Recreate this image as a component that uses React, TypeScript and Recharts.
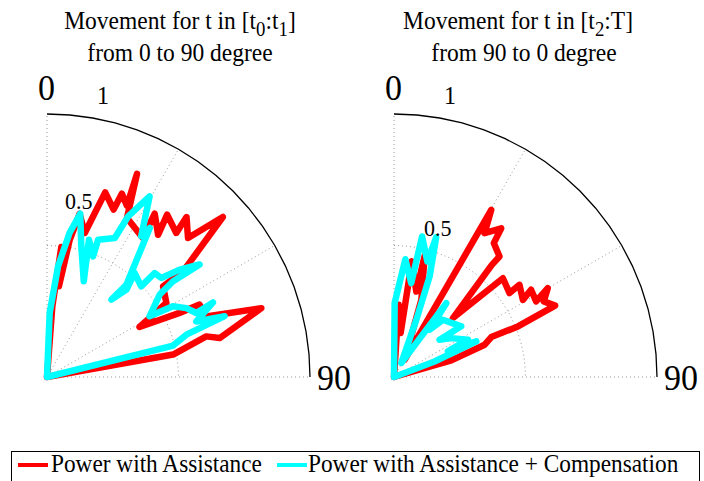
import { ScatterChart, Scatter, XAxis, YAxis } from "recharts";

// t in [t0:t1], moving from 0 to 90 degree (angle from the 0 axis, radius 0..1)
const redLeftDeg = [5, 4.3, 6.3, 7.5, 9.4, 11.3, 14.7, 17.5, 21.7, 22.2, 25.0, 23.9, 26.7, 34.6, 33.4, 38.0, 36.5, 41.9, 41.1, 45.4, 47.7, 52.2, 52.0, 58.2, 61.6, 64.2, 64.6, 69.2, 72.2, 77.3, 75.7, 79.9, 82];
const redLeftR = [0, 0.269, 0.497, 0.348, 0.529, 0.633, 0.566, 0.736, 0.685, 0.753, 0.719, 0.845, 0.677, 0.642, 0.744, 0.686, 0.768, 0.736, 0.807, 0.753, 0.904, 0.655, 0.56, 0.534, 0.4, 0.56, 0.642, 0.648, 0.856, 0.673, 0.625, 0.487, 0];
const cyanLeftDeg = [3, 2.4, 5.7, 8.9, 11.5, 14.7, 21.0, 17.0, 20.9, 20.4, 26.0, 26.8, 29.6, 33.8, 34.6, 40.7, 39.8, 42.3, 40.1, 46.1, 46.0, 49.1, 51.0, 53.6, 52.8, 53.8, 59.4, 60.7, 63.7, 66.8, 65.8, 69.6, 71.1, 73.1, 76.0, 78];
const cyanLeftR = [0, 0.244, 0.423, 0.554, 0.634, 0.514, 0.39, 0.546, 0.491, 0.557, 0.588, 0.684, 0.79, 0.644, 0.688, 0.463, 0.383, 0.449, 0.517, 0.497, 0.569, 0.575, 0.649, 0.721, 0.602, 0.531, 0.453, 0.549, 0.591, 0.618, 0.692, 0.606, 0.714, 0.554, 0.494, 0];

// t in [t2:T], moving from 90 to 0 degree
const redRightDeg = [2, 3.7, 8.6, 8.8, 14.6, 14.2, 19.5, 31.6, 30.2, 32.2, 35.8, 36.7, 41.2, 41.1, 45.0, 47.8, 54.0, 53.7, 59.1, 57.5, 62.0, 60.0, 63.2, 66.1, 67.8, 67.7, 70.4, 73.8, 75];
const redRightR = [0, 0.275, 0.169, 0.445, 0.336, 0.475, 0.312, 0.077, 0.735, 0.646, 0.697, 0.635, 0.609, 0.566, 0.317, 0.559, 0.543, 0.592, 0.571, 0.618, 0.612, 0.675, 0.638, 0.67, 0.509, 0.4, 0.366, 0.227, 0];
const cyanRightDeg = [1, 0.5, 5.5, 10.4, 11.3, 16.1, 16.8, 19.5, 21.3, 27.6, 35.3, 37.0, 40.5, 53.0, 50.7, 55.8, 63.2, 64.6, 66.6, 69.1, 70];
const cyanRightR = [0, 0.281, 0.45, 0.363, 0.545, 0.457, 0.555, 0.406, 0.234, 0.06, 0.344, 0.225, 0.286, 0.32, 0.224, 0.263, 0.315, 0.227, 0.341, 0.165, 0];

// polar grid
const spokeDeg = [0, 30, 60, 90];
const arcDeg = [0, 5, 10, 15, 20, 25, 30, 35, 40, 45, 50, 55, 60, 65, 70, 75, 80, 85, 90];

const rad = (d: number) => (d * Math.PI) / 180;
const toXY = (deg: number[], r: number[]) =>
  deg.map((d, i) => ({ x: r[i] * Math.sin(rad(d)), y: r[i] * Math.cos(rad(d)) }));
const ring = (r: number) => toXY(arcDeg, arcDeg.map(() => r));

const NoDot = () => <g />;
const FONT = '"Liberation Serif", "Times New Roman", serif';
const dotted = { stroke: "#999", strokeWidth: 1, strokeDasharray: "1 3" };
const thick = { strokeWidth: 6.5, strokeLinejoin: "round", strokeLinecap: "round" };

// place text by its left edge (or centre) and baseline; glyphs are a bit taller in the figure
const Txt = ({ x, y, size, center, children }: any) => (
  <div
    style={{
      position: "absolute",
      left: center ? x - 200 : x,
      width: center ? 400 : undefined,
      textAlign: center ? "center" : "left",
      top: y - size * 0.84,
      fontSize: size,
      lineHeight: 1,
      whiteSpace: "nowrap",
      fontFamily: FONT,
      transform: "scaleY(1.07)",
      transformOrigin: "50% 84%",
    }}
  >
    {children}
  </div>
);
const Sub = ({ children }: any) => (
  <span style={{ fontSize: "0.8em", position: "relative", top: "0.36em" }}>{children}</span>
);

const Panel = ({ left, red, cyan }: { left: number; red: any[]; cyan: any[] }) => (
  <div style={{ position: "absolute", left, top: 0 }}>
    <ScatterChart width={340} height={400} margin={{ top: 114, left: 47, right: 30, bottom: 23 }}>
      <XAxis type="number" dataKey="x" domain={[0, 1]} hide />
      <YAxis type="number" dataKey="y" domain={[0, 1]} hide />
      {spokeDeg.map((d) => (
        <Scatter key={d} data={toXY([d, d], [0, 1])} line={dotted} lineType="joint" shape={NoDot} isAnimationActive={false} />
      ))}
      <Scatter data={ring(0.5)} line={dotted} lineType="joint" shape={NoDot} isAnimationActive={false} />
      <Scatter data={ring(1)} line={{ stroke: "#000", strokeWidth: 1.3 }} lineType="joint" shape={NoDot} isAnimationActive={false} />
      <Scatter data={red} fill="#ff0000" line={thick} lineType="joint" shape={NoDot} isAnimationActive={false} />
      <Scatter data={cyan} fill="#00ffff" line={thick} lineType="joint" shape={NoDot} isAnimationActive={false} />
    </ScatterChart>
  </div>
);

export default function App() {
  return (
    <div style={{ position: "absolute", left: 0, top: 0, width: 704, height: 481, background: "#fff", overflow: "hidden", fontFamily: FONT }}>
      <Panel left={0} red={toXY(redLeftDeg, redLeftR)} cyan={toXY(cyanLeftDeg, cyanLeftR)} />
      <Panel left={347} red={toXY(redRightDeg, redRightR)} cyan={toXY(cyanRightDeg, cyanRightR)} />

      <Txt x={180} y={30} size={23.5} center>Movement for t in [t<Sub>0</Sub>:t<Sub>1</Sub>]</Txt>
      <Txt x={180} y={62} size={23.5} center>from 0 to 90 degree</Txt>
      <Txt x={518} y={30} size={23.5} center>Movement for t in [t<Sub>2</Sub>:T]</Txt>
      <Txt x={524} y={62} size={23.5} center>from 90 to 0 degree</Txt>

      <Txt x={38} y={101} size={34}>0</Txt>
      <Txt x={97} y={104} size={24}>1</Txt>
      <Txt x={65} y={209} size={22}>0.5</Txt>
      <Txt x={317} y={391} size={34}>90</Txt>

      <Txt x={385} y={101} size={34}>0</Txt>
      <Txt x={444} y={104} size={24}>1</Txt>
      <Txt x={424} y={236} size={22}>0.5</Txt>
      <Txt x={664} y={391} size={34}>90</Txt>

      <div style={{ position: "absolute", left: 11, top: 451, width: 687, height: 40, border: "1px solid #000" }} />
      <div style={{ position: "absolute", left: 18, top: 463, width: 30, height: 4, background: "#ff0000" }} />
      <Txt x={51} y={473} size={23.3}>Power with Assistance</Txt>
      <div style={{ position: "absolute", left: 277, top: 463, width: 30, height: 4, background: "#00ffff" }} />
      <Txt x={308} y={473} size={23.3}>Power with Assistance + Compensation</Txt>
    </div>
  );
}
